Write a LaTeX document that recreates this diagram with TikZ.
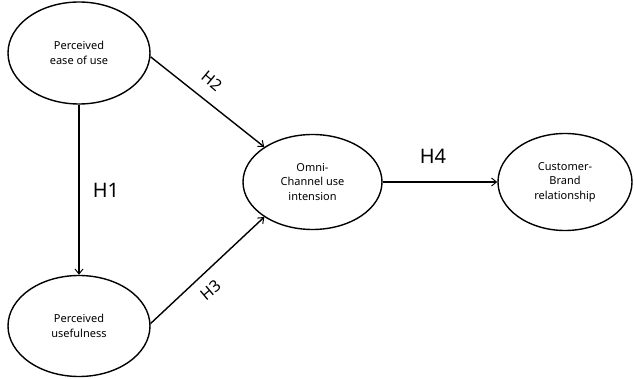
\documentclass[tikz,border=0pt]{standalone}
\usepackage{fontspec}
\setmainfont{Noto Sans}
\usetikzlibrary{shapes.geometric,arrows.meta}
\tikzset{
  construct/.style={ellipse, draw, line width=1.4pt, align=center,
    inner sep=0pt, font=\fontsize{11}{14.5}\selectfont},
  path/.style={line width=1.4pt, -{Straight Barb[length=5pt,width=8pt,line width=1pt]}},
  hyp/.style={font=\fontsize{20}{22}\selectfont},
  hypsmall/.style={font=\fontsize{16}{18}\selectfont, inner sep=1pt},
}
\begin{document}
\begin{tikzpicture}[x=1pt,y=-1pt]
  \useasboundingbox (0,0) rectangle (634,379);
  % constructs
  \node[construct, minimum width=142pt, minimum height=102pt] (pe) at (79,53) {Perceived\\ease of use};
  \node[construct, minimum width=142pt, minimum height=101pt] (pu) at (79,326) {Perceived\\usefulness};
  \node[construct, minimum width=139pt, minimum height=95pt] (oc) at (312.5,182) {Omni-\\Channel use\\intension};
  \node[construct, minimum width=134pt, minimum height=97pt] (cb) at (565,182) {Customer-\\Brand\\relationship};
  % hypothesised paths
  \draw[path] (pe.south) -- (pu.north);
  \draw[path] (pe.-3) -- (oc.144);
  \draw[path] (pu.2) -- (oc.216);
  \draw[path] (oc.east) -- (cb.west);
  % path labels
  \node[hyp] (h1) at (106,190) {H1};
  \node[hyp] (h4) at (433,156) {H4};
  \node[hypsmall, rotate=-40] (h2) at (212,81) {H2};
  \node[hypsmall, rotate=40] (h3) at (211,290) {H3};
\end{tikzpicture}
\end{document}
